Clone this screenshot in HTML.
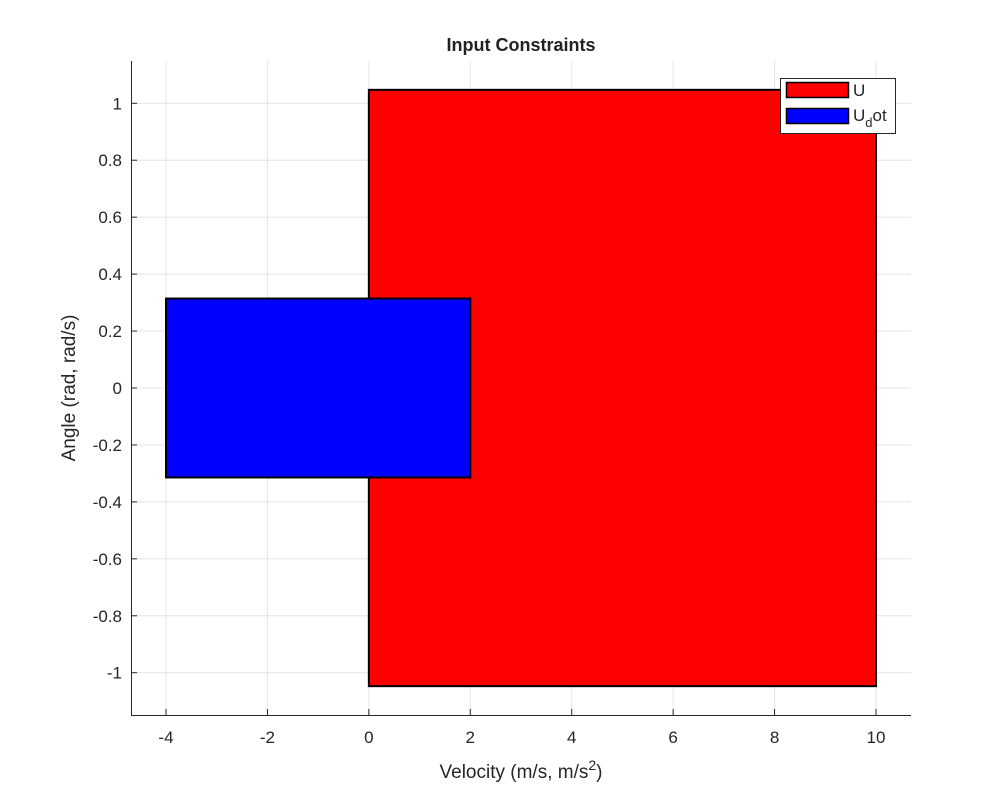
<!DOCTYPE html>
<html><head><meta charset="utf-8"><style>
body{margin:0;background:#fff;}
svg{display:block;font-family:"Liberation Sans",Arial,sans-serif;}
</style></head><body>
<svg id="chart" width="1008" height="804" viewBox="0 0 1008 804">
<rect x="0" y="0" width="1008" height="804" fill="#fff"/>
<g id="grid"></g><g id="marks"></g><g id="axes"></g>
<text x="521" y="51" text-anchor="middle" font-size="18" font-weight="bold" fill="#222">Input Constraints</text>
<text x="521" y="778" text-anchor="middle" font-size="19" fill="#262626">Velocity (m/s, m/s<tspan dy="-8" font-size="14">2</tspan><tspan dy="8">)</tspan></text>
<text transform="translate(75,388) rotate(-90)" text-anchor="middle" font-size="19" fill="#262626">Angle (rad, rad/s)</text>
<g>
<rect x="780.5" y="78.5" width="115" height="55" fill="#fff" stroke="#262626" stroke-width="1"/>
<rect x="786.5" y="82.5" width="62" height="15" fill="#f00" stroke="#000" stroke-width="1.5"/>
<text x="853" y="96" font-size="17" fill="#262626">U</text>
<rect x="786.5" y="108.5" width="62" height="15" fill="#00f" stroke="#000" stroke-width="1.5"/>
<text x="853" y="121" font-size="17" fill="#262626">U<tspan dy="6" font-size="13">d</tspan><tspan dy="-6">ot</tspan></text>
</g>
</svg>
<script>
const xTicks=[-4,-2,0,2,4,6,8,10];
const yTicks=[-1,-0.8,-0.6,-0.4,-0.2,0,0.2,0.4,0.6,0.8,1];
const rectNames=["U","U_dot"];
const rectXMin=[0,-4];
const rectXMax=[10,2];
const rectYMin=[-1.0472,-0.3142];
const rectYMax=[1.0472,0.3142];
const rectColors=["#ff0000","#0000ff"];
const L=131,R=911,T=61,B=715;
const xmin=-4.69,xmax=10.69,ymin=-1.1485,ymax=1.1485;
const sx=v=>L+(v-xmin)/(xmax-xmin)*(R-L);
const sy=v=>B-(v-ymin)/(ymax-ymin)*(B-T);
const NS="http://www.w3.org/2000/svg";
function mk(tag,attrs,parent){const e=document.createElementNS(NS,tag);for(const k in attrs)e.setAttribute(k,attrs[k]);document.getElementById(parent).appendChild(e);return e;}
xTicks.forEach(t=>{
 const g=mk("line",{x1:sx(t),x2:sx(t),y1:T,y2:B,stroke:"#e4e4e4","stroke-width":1},"grid");
 
 
 const k=mk("line",{x1:sx(t),x2:sx(t),y1:B,y2:B-6,stroke:"#262626"},"axes");
 
 
 const l=mk("text",{x:sx(t),y:B+28,"text-anchor":"middle","font-size":"17",fill:"#262626"},"axes");
 l.textContent=t;
 
 
});
yTicks.forEach(t=>{
 const g=mk("line",{x1:L,x2:R,y1:sy(t),y2:sy(t),stroke:"#e4e4e4","stroke-width":1},"grid");
 
 
 const k=mk("line",{x1:L,x2:L+6,y1:sy(t),y2:sy(t),stroke:"#262626"},"axes");
 
 
 const l=mk("text",{x:L-9,y:sy(t)+6,"text-anchor":"end","font-size":"17",fill:"#262626"},"axes");
 l.textContent=t;
 
 
});
rectNames.forEach((n,i)=>{
 const r=mk("rect",{x:sx(rectXMin[i]),y:sy(rectYMax[i]),width:sx(rectXMax[i])-sx(rectXMin[i]),height:sy(rectYMin[i])-sy(rectYMax[i]),fill:rectColors[i],stroke:"#000","stroke-width":2},"marks");
 
 
});
const ax=mk("line",{x1:L,x2:R,y1:B+0.5,y2:B+0.5,stroke:"#262626"},"axes");


const ay=mk("line",{x1:L+0.5,x2:L+0.5,y1:T,y2:B,stroke:"#262626"},"axes");


</script>
</body></html>
